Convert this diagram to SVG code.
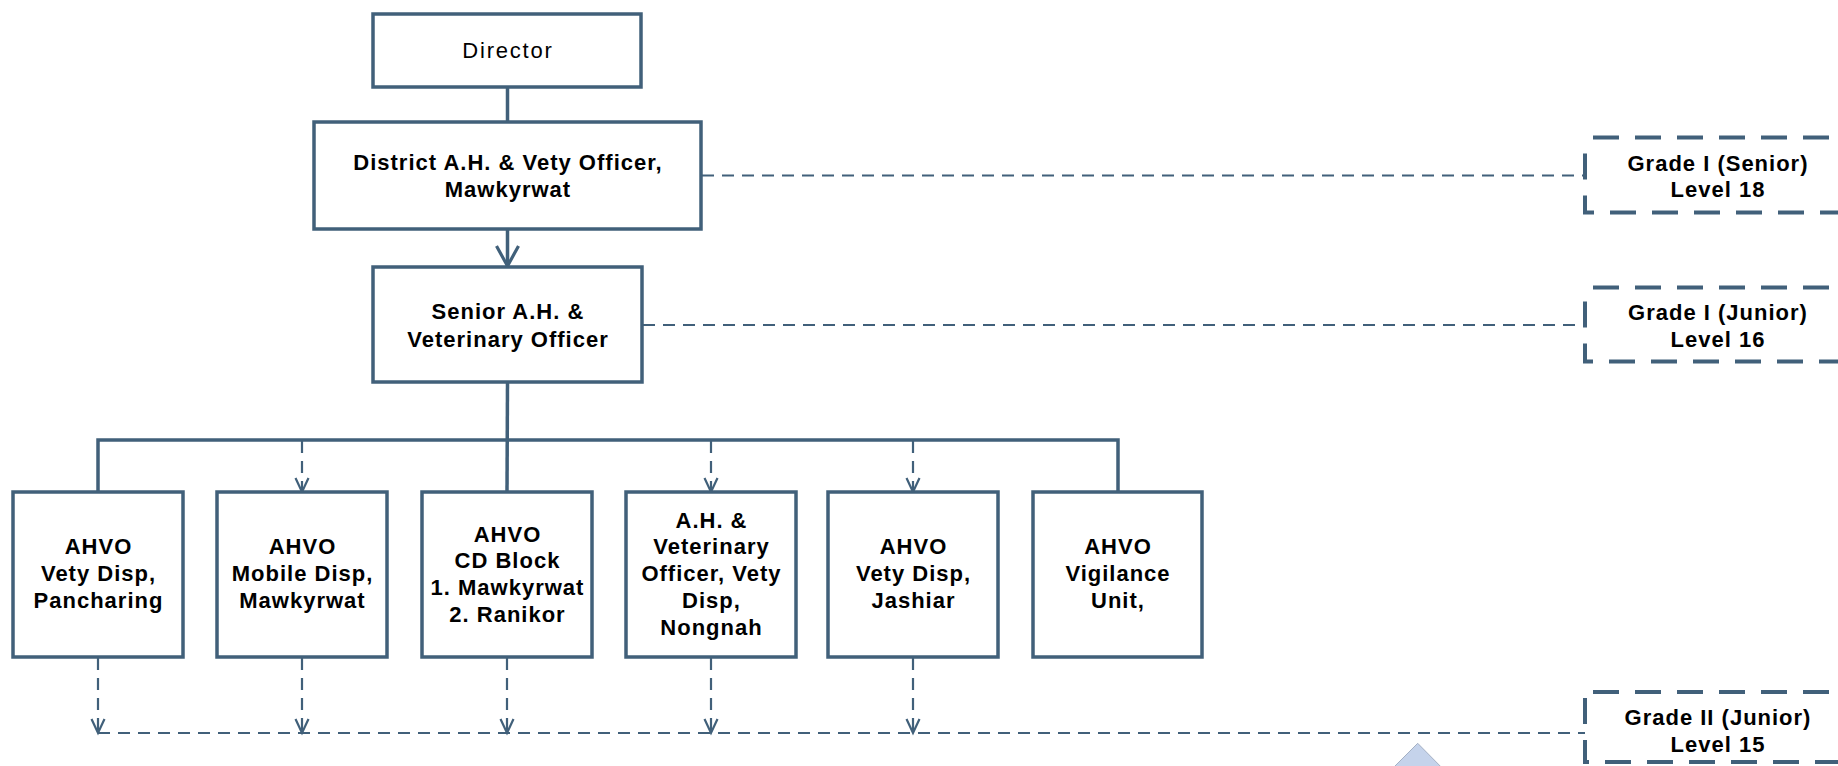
<svg xmlns="http://www.w3.org/2000/svg" width="1838" height="766" viewBox="0 0 1838 766">
<style>
.box{fill:#fff;stroke:#41607a;stroke-width:3.5}
.grade{fill:#fff;stroke:#41607a;stroke-width:4;stroke-dasharray:26 16;stroke-dashoffset:34}
.solid{fill:none;stroke:#41607a;stroke-width:3.5}
.dash{fill:none;stroke:#41607a;stroke-width:2.2;stroke-dasharray:12 8}
.t{font-family:"Liberation Sans",Arial,sans-serif;font-size:22px;font-weight:bold;fill:#000;text-anchor:middle;letter-spacing:1px}
.tr{font-family:"Liberation Sans",Arial,sans-serif;font-size:22px;font-weight:normal;fill:#000;text-anchor:middle;letter-spacing:1.8px}
</style>
<defs>
<marker id="ah" markerUnits="userSpaceOnUse" viewBox="-16 -9 19 18" refX="0" refY="0" markerWidth="19" markerHeight="18" orient="auto" overflow="visible">
<path d="M-14,-6.5 L0,0 L-14,6.5" fill="none" stroke="#41607a" stroke-width="2.2" stroke-dasharray="none"/>
</marker>
<marker id="ahs" markerUnits="userSpaceOnUse" viewBox="-22 -12 25 24" refX="0" refY="0" markerWidth="25" markerHeight="24" orient="auto" overflow="visible">
<path d="M-20,-11 L0,0 L-20,11" fill="none" stroke="#41607a" stroke-width="3.2"/>
</marker>
</defs>
<rect width="1838" height="766" fill="#fff"/>
<polygon points="1417.7,743.3 1380,781 1455,781" fill="#c5d3eb" stroke="#a4b0c4" stroke-width="1"/>
<g id="connectors">
<line class="solid" x1="507.5" y1="88" x2="507.5" y2="122"/>
<line class="solid" x1="507.5" y1="229" x2="507.5" y2="266" marker-end="url(#ahs)"/>
<path class="solid" d="M507.5,382 L507,492"/>
<path class="solid" d="M98,492 L98,440 L1118,440 L1118,492"/>
<line class="dash" x1="302" y1="441" x2="302" y2="492" marker-end="url(#ah)"/>
<line class="dash" x1="711" y1="441" x2="711" y2="492" marker-end="url(#ah)"/>
<line class="dash" x1="913" y1="441" x2="913" y2="492" marker-end="url(#ah)"/>
<line class="dash" x1="98" y1="658" x2="98" y2="733" marker-end="url(#ah)"/>
<line class="dash" x1="302" y1="658" x2="302" y2="733" marker-end="url(#ah)"/>
<line class="dash" x1="507" y1="658" x2="507" y2="733" marker-end="url(#ah)"/>
<line class="dash" x1="711" y1="658" x2="711" y2="733" marker-end="url(#ah)"/>
<line class="dash" x1="913" y1="658" x2="913" y2="733" marker-end="url(#ah)"/>
<line class="dash" x1="98" y1="733" x2="1586" y2="733"/>
<line class="dash" x1="702" y1="175.5" x2="1586" y2="175.5"/>
<line class="dash" x1="643" y1="325" x2="1586" y2="325"/>
</g>
<g id="director">
<rect class="box" x="373" y="14" width="268" height="73"/>
<text class="tr" x="508" y="58">Director</text>
</g>
<g id="district">
<rect class="box" x="314" y="122" width="387" height="107"/>
<text class="t" x="508" y="170">District A.H. &amp; Vety Officer,</text>
<text class="t" x="508" y="197">Mawkyrwat</text>
</g>
<g id="senior">
<rect class="box" x="373" y="267" width="269" height="115"/>
<text class="t" x="508" y="319">Senior A.H. &amp;</text>
<text class="t" x="508" y="346.5">Veterinary Officer</text>
</g>
<g id="ahvo-pancharing">
<rect class="box" x="13" y="492" width="170" height="165"/>
<text class="t" x="98.5" y="554">AHVO</text>
<text class="t" x="98.5" y="581">Vety Disp,</text>
<text class="t" x="98.5" y="608">Pancharing</text>
</g>
<g id="ahvo-mobile">
<rect class="box" x="217" y="492" width="170" height="165"/>
<text class="t" x="302.5" y="554">AHVO</text>
<text class="t" x="302.5" y="581">Mobile Disp,</text>
<text class="t" x="302.5" y="608">Mawkyrwat</text>
</g>
<g id="ahvo-cdblock">
<rect class="box" x="422" y="492" width="170" height="165"/>
<text class="t" x="507.5" y="541.5">AHVO</text>
<text class="t" x="507.5" y="568.3">CD Block</text>
<text class="t" x="507.5" y="595">1. Mawkyrwat</text>
<text class="t" x="507.5" y="621.7">2. Ranikor</text>
</g>
<g id="ahvo-nongnah">
<rect class="box" x="626" y="492" width="170" height="165"/>
<text class="t" x="711.5" y="527.5">A.H. &amp;</text>
<text class="t" x="711.5" y="554.3">Veterinary</text>
<text class="t" x="711.5" y="581">Officer, Vety</text>
<text class="t" x="711.5" y="607.7">Disp,</text>
<text class="t" x="711.5" y="634.5">Nongnah</text>
</g>
<g id="ahvo-jashiar">
<rect class="box" x="828" y="492" width="170" height="165"/>
<text class="t" x="913.5" y="554">AHVO</text>
<text class="t" x="913.5" y="581">Vety Disp,</text>
<text class="t" x="913.5" y="608">Jashiar</text>
</g>
<g id="ahvo-vigilance">
<rect class="box" x="1033" y="492" width="169" height="165"/>
<text class="t" x="1118" y="554">AHVO</text>
<text class="t" x="1118" y="581">Vigilance</text>
<text class="t" x="1118" y="608">Unit,</text>
</g>
<g id="grade-senior">
<rect class="grade" x="1585" y="137.5" width="265" height="75"/>
<text class="t" x="1718" y="170.5">Grade I (Senior)</text>
<text class="t" x="1718" y="197">Level 18</text>
</g>
<g id="grade-junior">
<rect class="grade" x="1585" y="287.5" width="265" height="74"/>
<text class="t" x="1718" y="320">Grade I (Junior)</text>
<text class="t" x="1718" y="346.5">Level 16</text>
</g>
<g id="grade-ii-junior">
<rect class="grade" x="1585" y="692" width="265" height="70"/>
<text class="t" x="1718" y="725">Grade II (Junior)</text>
<text class="t" x="1718" y="751.5">Level 15</text>
</g>
</svg>
